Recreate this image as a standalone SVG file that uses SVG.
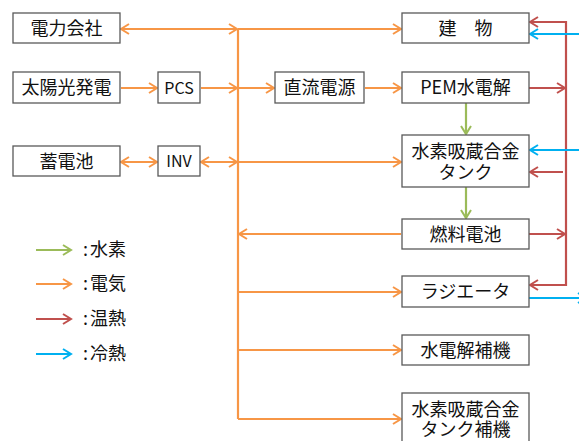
<svg xmlns="http://www.w3.org/2000/svg" width="579" height="441" viewBox="0 0 579 441">
<style>
.box{fill:#fff;stroke:#595959;stroke-width:1.3}
text{font-family:"Noto Sans CJK JP","Noto Sans",sans-serif;fill:#111;text-anchor:middle}
.t{font-size:18px}
.t2{font-size:18px;line-height:1}
.s{font-size:16px}
.lg{font-size:18px;text-anchor:start}
.o{stroke:#F79646;stroke-width:2.2;fill:none}
.r{stroke:#C0504D;stroke-width:2.2;fill:none}
.g{stroke:#9BBB59;stroke-width:2.2;fill:none}
.b{stroke:#00B0F0;stroke-width:2.2;fill:none}
</style>
<defs>
<marker id="mo" viewBox="0 0 12 12" refX="10" refY="6" markerWidth="12" markerHeight="12" markerUnits="userSpaceOnUse" orient="auto-start-reverse"><path d="M2,1 L10,6 L2,11" fill="none" stroke="#F79646" stroke-width="2"/></marker>
<marker id="mr" viewBox="0 0 12 12" refX="10" refY="6" markerWidth="12" markerHeight="12" markerUnits="userSpaceOnUse" orient="auto-start-reverse"><path d="M2,1 L10,6 L2,11" fill="none" stroke="#C0504D" stroke-width="2"/></marker>
<marker id="mg" viewBox="0 0 12 12" refX="10" refY="6" markerWidth="12" markerHeight="12" markerUnits="userSpaceOnUse" orient="auto-start-reverse"><path d="M2,1 L10,6 L2,11" fill="none" stroke="#9BBB59" stroke-width="2"/></marker>
<marker id="mb" viewBox="0 0 12 12" refX="10" refY="6" markerWidth="12" markerHeight="12" markerUnits="userSpaceOnUse" orient="auto-start-reverse"><path d="M2,1 L10,6 L2,11" fill="none" stroke="#00B0F0" stroke-width="2"/></marker>
</defs>
<rect width="579" height="441" fill="#fff"/>
<g id="connectors">
<path class="o" d="M238,29 V419"/>
<path class="o" d="M121,29 H237" marker-start="url(#mo)" marker-end="url(#mo)"/>
<path class="o" d="M238,29 H401" marker-end="url(#mo)"/>
<path class="o" d="M121,88 H157" marker-end="url(#mo)"/>
<path class="o" d="M201,88 H237" marker-end="url(#mo)"/>
<path class="o" d="M238,88 H274" marker-end="url(#mo)"/>
<path class="o" d="M365,88 H401" marker-end="url(#mo)"/>
<path class="o" d="M121,162 H157" marker-start="url(#mo)" marker-end="url(#mo)"/>
<path class="o" d="M201,162 H237" marker-start="url(#mo)" marker-end="url(#mo)"/>
<path class="o" d="M238,162 H401" marker-end="url(#mo)"/>
<path class="o" d="M401,234 H239" marker-end="url(#mo)"/>
<path class="o" d="M238,292 H401" marker-end="url(#mo)"/>
<path class="o" d="M238,350 H401" marker-end="url(#mo)"/>
<path class="o" d="M238,419 H401" marker-end="url(#mo)"/>
<path class="g" d="M466,103 V134" marker-end="url(#mg)"/>
<path class="g" d="M466,187 V218" marker-end="url(#mg)"/>
<path class="r" d="M530,22 H566 V285 H530" marker-start="url(#mr)" marker-end="url(#mr)"/>
<path class="r" d="M529,88 H565" marker-end="url(#mr)"/>
<path class="r" d="M563,172 H530" marker-end="url(#mr)"/>
<path class="r" d="M529,234 H565" marker-end="url(#mr)"/>
<path class="b" d="M580,34 H530" marker-end="url(#mb)"/>
<path class="b" d="M580,150 H530" marker-end="url(#mb)"/>
<path class="b" d="M529,298 H586" marker-end="url(#mb)"/>
</g>
<g id="n-denryoku"><rect class="box" x="13" y="13" width="107" height="30"/><text class="t" x="66.5" y="34.5">電力会社</text></g>
<g id="n-taiyoko"><rect class="box" x="13" y="72" width="107" height="31"/><text class="t" x="66.5" y="94">太陽光発電</text></g>
<g id="n-chikuden"><rect class="box" x="13" y="146" width="107" height="30"/><text class="t" x="66.5" y="167.5">蓄電池</text></g>
<g id="n-pcs"><rect class="box" x="158" y="72" width="42" height="31"/><text class="s" x="179" y="93.5">PCS</text></g>
<g id="n-inv"><rect class="box" x="158" y="146" width="42" height="30"/><text class="s" x="179" y="167">INV</text></g>
<g id="n-chokuryu"><rect class="box" x="275" y="72" width="89" height="31"/><text class="t" x="319.5" y="94">直流電源</text></g>
<g id="n-tatemono"><rect class="box" x="402" y="13" width="127" height="30"/><text class="t" x="465.5" y="34.5">建　物</text></g>
<g id="n-pem"><rect class="box" x="402" y="72" width="127" height="31"/><text class="t" x="465.5" y="94">PEM水電解</text></g>
<g id="n-tank"><rect class="box" x="402" y="135" width="127" height="52"/><text class="t" x="465.5" y="158"><tspan x="465.5">水素吸蔵合金</tspan><tspan x="465.5" dy="20.5">タンク</tspan></text></g>
<g id="n-fc"><rect class="box" x="402" y="219" width="127" height="30"/><text class="t" x="465.5" y="240.5">燃料電池</text></g>
<g id="n-rad"><rect class="box" x="402" y="276" width="127" height="31"/><text class="t" x="465.5" y="298">ラジエータ</text></g>
<g id="n-hoki1"><rect class="box" x="402" y="335" width="127" height="30"/><text class="t" x="465.5" y="356.5">水電解補機</text></g>
<g id="n-hoki2"><rect class="box" x="402" y="393" width="127" height="60"/><text class="t" x="465.5" y="415.5"><tspan x="465.5">水素吸蔵合金</tspan><tspan x="465.5" dy="20.5">タンク補機</tspan></text></g>
<g id="legend">
<path class="g" d="M36,250 H71" marker-end="url(#mg)"/>
<path class="o" d="M36,284 H71" marker-end="url(#mo)"/>
<path class="r" d="M36,319 H71" marker-end="url(#mr)"/>
<path class="b" d="M36,354 H71" marker-end="url(#mb)"/>
<text class="lg" x="83" y="256">:<tspan dx="2">水素</tspan></text>
<text class="lg" x="83" y="290">:<tspan dx="2">電気</tspan></text>
<text class="lg" x="83" y="325">:<tspan dx="2">温熱</tspan></text>
<text class="lg" x="83" y="360">:<tspan dx="2">冷熱</tspan></text>
</g>
</svg>
